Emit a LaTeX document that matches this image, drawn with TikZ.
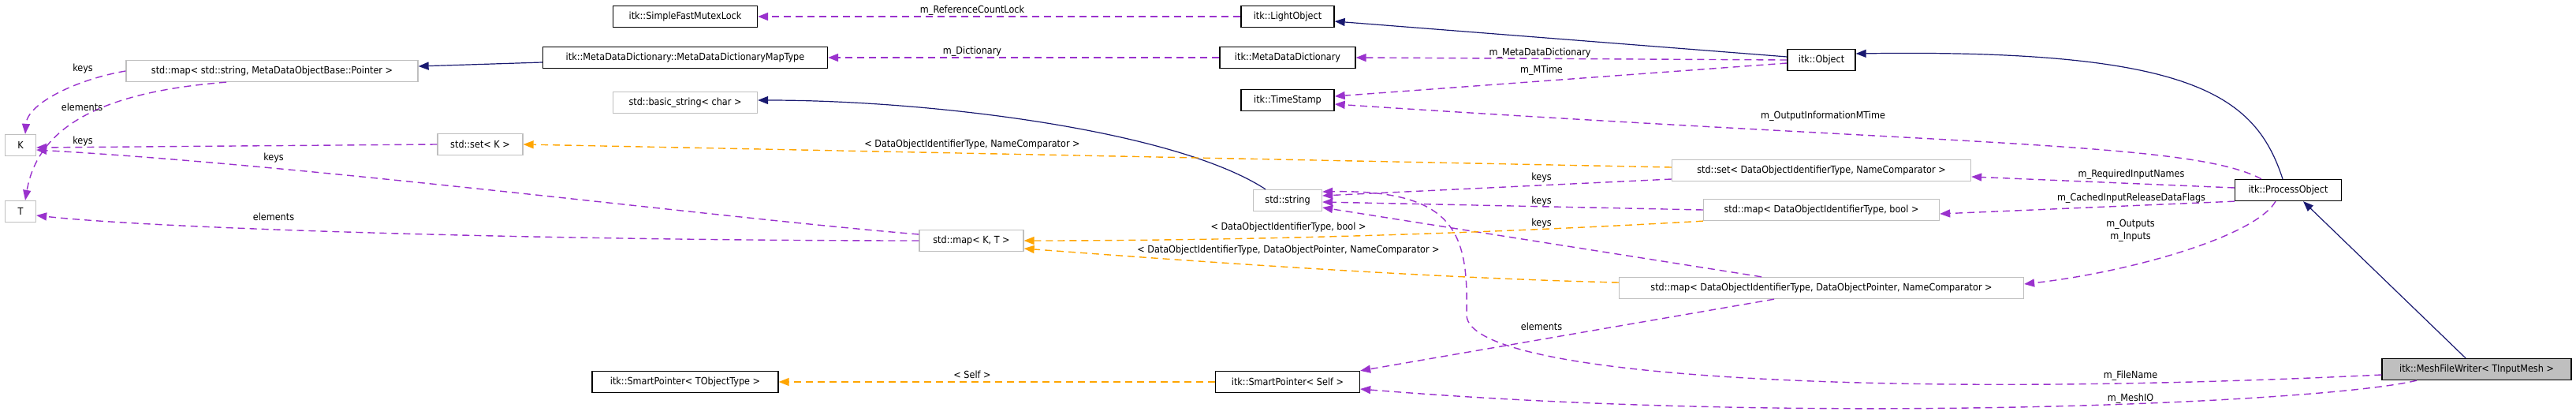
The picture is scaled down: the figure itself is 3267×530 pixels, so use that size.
\documentclass[tikz,border=0pt]{standalone}
\usepackage{fontspec}
\setmainfont{DejaVu Sans Condensed}
\usetikzlibrary{arrows.meta}

\definecolor{inhcol}{HTML}{191970}
\definecolor{memcol}{HTML}{9A32CD}
\definecolor{tplcol}{HTML}{FFA500}
\definecolor{extcol}{HTML}{BFBFBF}

\tikzset{
    cls/.style={draw=black, line width=1.3pt, fill=white, inner sep=0pt, minimum height=27pt, font=\fontsize{12.5}{16}\selectfont},
    ext/.style={cls, draw=extcol},
    inh/.style={->, draw=inhcol, line width=1.2pt},
    member/.style={->, draw=memcol, line width=1.4pt, dash pattern=on 9pt off 6pt},
    tmpl/.style={member, draw=tplcol},
    lbl/.style={inner sep=0pt, font=\fontsize{12.5}{16}\selectfont},
}

\begin{document}
\begin{tikzpicture}[x=1pt, y=-1pt, >={Triangle[length=13pt,width=10pt]}]

        \useasboundingbox (0,0) rectangle (3267,530);

        % classes
        \node[ext, minimum width=39pt] (K) at (26,184) {K};
        \node[ext, minimum width=39pt] (T) at (26,268) {T};
        \node[ext, minimum width=370pt] (mapstr) at (345,90) {std::map< std::string, MetaDataObjectBase::Pointer >};
        \node[cls, minimum width=183pt] (mutex) at (869,21) {itk::SimpleFastMutexLock};
        \node[cls, minimum width=361pt] (maptype) at (869,73) {itk::MetaDataDictionary::MetaDataDictionaryMapType};
        \node[ext, minimum width=183pt] (basicstr) at (869,130) {std::basic\_string< char >};
        \node[ext, minimum width=108pt] (setK) at (609,183) {std::set< K >};
        \node[ext, minimum width=132pt] (mapKT) at (1232,305) {std::map< K, T >};
        \node[cls, minimum width=236pt] (spTO) at (869,484) {itk::SmartPointer< TObjectType >};
        \node[cls, minimum width=118pt] (light) at (1633,21) {itk::LightObject};
        \node[cls, minimum width=172pt] (mdd) at (1633,73) {itk::MetaDataDictionary};
        \node[cls, minimum width=118pt] (stamp) at (1633,127) {itk::TimeStamp};
        \node[ext, minimum width=87pt] (string) at (1633,254) {std::string};
        \node[cls, minimum width=183pt] (spSelf) at (1633,484) {itk::SmartPointer< Self >};
        \node[cls, minimum width=86pt] (object) at (2310,76) {itk::Object};
        \node[ext, minimum width=379pt] (setDOI) at (2310,216) {std::set< DataObjectIdentifierType, NameComparator >};
        \node[ext, minimum width=299pt] (mapBool) at (2310,266) {std::map< DataObjectIdentifierType, bool >};
        \node[ext, minimum width=513pt] (mapDOP) at (2310,365) {std::map< DataObjectIdentifierType, DataObjectPointer, NameComparator >};
        \node[cls, minimum width=135pt] (process) at (2902,241) {itk::ProcessObject};
        \node[cls, minimum width=240pt, fill=extcol] (writer) at (3141,468) {itk::MeshFileWriter< TInputMesh >};

        % inheritance
        \draw[inh] ([yshift=4pt]object.west) -- ([yshift=-6pt]light.east);
        \draw[inh] ([xshift=-7pt]process.north) .. controls (2860,120) and (2780,62) .. ([yshift=8pt]object.east);
        \draw[inh] ([xshift=-14pt]writer.north) -- ([xshift=19pt]process.south);
        \draw[inh] ([yshift=-6pt]maptype.west) -- ([yshift=6pt]mapstr.east);
        \draw[inh] ([xshift=-28pt]string.north) .. controls (1490,165) and (1180,127) .. ([yshift=3pt]basicstr.east);

        % members
        \draw[member] (light.west) -- (mutex.east);
        \node[lbl] (lRef) at (1233,13) {m\_ReferenceCountLock};
        \draw[member] (mdd.west) -- (maptype.east);
        \node[lbl] (lDict) at (1233,65) {m\_Dictionary};
        \draw[member] (object.west) -- (mdd.east);
        \node[lbl] (lMdd) at (1953,67) {m\_MetaDataDictionary};
        \draw[member] ([yshift=-4pt]object.west) -- ([yshift=5pt]stamp.east);
        \node[lbl] (lMTime) at (1955,89) {m\_MTime};
        \draw[member] ([xshift=-34pt]process.north) .. controls (2780,180) and (2500,185) .. ([yshift=-5pt]stamp.east);
        \node[lbl] (lOutMTime) at (2312,147) {m\_OutputInformationMTime};
        \draw[member] ([yshift=3pt]process.west) -- ([yshift=-8pt]setDOI.east);
        \node[lbl] (lReq) at (2703,221) {m\_RequiredInputNames};
        \draw[member] (process.south west) -- ([yshift=-5pt]mapBool.east);
        \node[lbl] (lCached) at (2703,251) {m\_CachedInputReleaseDataFlags};
        \draw[member] ([xshift=-16pt]process.south) .. controls (2860,300) and (2700,345) .. ([yshift=5pt]mapDOP.east);
        \node[lbl, align=center] (lInOut) at (2702,292) {m\_Outputs\\m\_Inputs};

        \draw[member] ([yshift=-11pt]setDOI.west) -- ([yshift=6pt]string.east);
        \draw[member] (mapBool.west) -- ([yshift=-2pt]string.east);
        \draw[member] ([xshift=-76pt]mapDOP.north) -- ([yshift=-9pt]string.east);
        \foreach \y in {225,255,283}
            \node[lbl] (lKeys\y) at (1955,\y) {keys};
        \draw[member] ([xshift=-60pt]mapDOP.south) -- (spSelf.north east);
        \node[lbl] (lElem) at (1955,414) {elements};

        \draw[member] ([yshift=-7pt]writer.west) .. controls (2400,505) and (1865,480) .. (1860,400)
            .. controls (1862,300) and (1850,240) .. ([yshift=11pt]string.east);
        \node[lbl] (lFile) at (2702,476) {m\_FileName};
        \draw[member] ([xshift=-76pt]writer.south) .. controls (2950,510) and (2300,540) .. ([yshift=-9pt]spSelf.east);
        \node[lbl] (lMeshIO) at (2702,505) {m\_MeshIO};

        \draw[member] (mapstr.west) .. controls (100,100) and (35,130) .. ([xshift=6pt]K.north);
        \node[lbl] (lKeysA) at (105,87) {keys};
        \draw[member] ([xshift=-58pt]mapstr.south) .. controls (150,115) and (50,150) .. ([xshift=6pt]T.north);
        \node[lbl] (lElemA) at (104,136) {elements};
        \draw[member] (setK.west) -- ([yshift=-3pt]K.east);
        \node[lbl] (lKeysB) at (105,179) {keys};
        \draw[member] ([yshift=8pt]mapKT.west) .. controls (900,275) and (400,210) .. ([yshift=-6pt]K.east);
        \node[lbl] (lKeysC) at (347,200) {keys};
        \draw[member] (mapKT.west) .. controls (700,305) and (200,290) .. ([yshift=-5pt]T.east);
        \node[lbl] (lElemB) at (347,275) {elements};

        % template instances
        \draw[tmpl] ([yshift=4pt]setDOI.west) -- (setK.east);
        \node[lbl] (lTplSet) at (1233,183) {< DataObjectIdentifierType, NameComparator >};
        \draw[tmpl] (mapBool.south west) .. controls (1900,295) and (1600,305) .. (mapKT.east);
        \node[lbl] (lTplBool) at (1634,288) {< DataObjectIdentifierType, bool >};
        \draw[tmpl] ([yshift=7pt]mapDOP.west) .. controls (1800,352) and (1500,330) .. ([yshift=-10pt]mapKT.east);
        \node[lbl] (lTplDOP) at (1634,317) {< DataObjectIdentifierType, DataObjectPointer, NameComparator >};
        \draw[tmpl] (spSelf.west) -- (spTO.east);
        \node[lbl] (lSelf) at (1233,475) {< Self >};

\end{tikzpicture}
\end{document}
